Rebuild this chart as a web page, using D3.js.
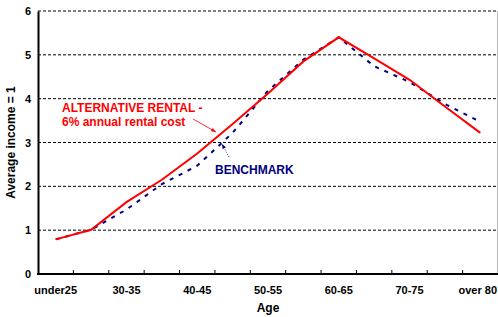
<!DOCTYPE html>
<html>
<head>
<meta charset="utf-8">
<script src="https://cdn.jsdelivr.net/npm/d3@7"></script>
<style>
  body { margin: 0; background: #fff; }
  text { font-family: "Liberation Sans", Arial, sans-serif; font-weight: bold; }
</style>
</head>
<body>
<div id="chart"></div>
<script>
var ages = ["under25", "25-30", "30-35", "35-40", "40-45", "45-50", "50-55", "55-60", "60-65", "65-70", "70-75", "75-80", "over 80"];
var shownLabels = ["under25", "30-35", "40-45", "50-55", "60-65", "70-75", "over 80"];
var rental = [0.79, 1.01, 1.64, 2.15, 2.75, 3.42, 4.12, 4.85, 5.40, 4.92, 4.43, 3.82, 3.22];
var benchmark = [0.79, 1.01, 1.47, 2.05, 2.47, 3.22, 4.18, 4.89, 5.40, 4.74, 4.38, 3.88, 3.47];
var yTicks = [0, 1, 2, 3, 4, 5, 6];

var W = 498, H = 317;
var margin = {top: 11, right: 0, bottom: 43, left: 38};
var width = W - margin.left - margin.right;
var height = H - margin.top - margin.bottom;

var svg = d3.select("#chart").append("svg")
    .attr("width", W)
    .attr("height", H);

var defs = svg.append("defs");
defs.append("marker").attr("id", "arrRed")
    .attr("viewBox", "0 0 10 10").attr("refX", 10).attr("refY", 5)
    .attr("markerWidth", 6).attr("markerHeight", 6).attr("orient", "auto")
    .append("path").attr("d", "M0,1L10,5L0,9Z").attr("fill", "#ff0000");
defs.append("marker").attr("id", "arrBlue")
    .attr("viewBox", "0 0 10 10").attr("refX", 10).attr("refY", 5)
    .attr("markerWidth", 6).attr("markerHeight", 6).attr("orient", "auto")
    .append("path").attr("d", "M0,1L10,5L0,9Z").attr("fill", "#000080");

var g = svg.append("g")
    .attr("transform", "translate(" + margin.left + "," + margin.top + ")");

var x = d3.scaleBand().domain(ages).range([0, width]).padding(0);
var y = d3.scaleLinear().domain([0, 6]).range([height, 0]);

// gridlines
g.append("g")
    .selectAll("line")
    .data(yTicks.filter(function(d) { return d > 0; }))
    .enter().append("line")
    .attr("x1", 0).attr("x2", width)
    .attr("y1", function(d) { return y(d); })
    .attr("y2", function(d) { return y(d); })
    .attr("stroke", "#000")
    .attr("stroke-width", 1)
    .attr("stroke-dasharray", "3,2");

// right border
g.append("line")
    .attr("x1", width - 0.5).attr("x2", width - 0.5)
    .attr("y1", 0).attr("y2", height)
    .attr("stroke", "#bbb");

// y axis
var yAxis = d3.axisLeft(y).tickValues(yTicks).tickFormat(d3.format("d")).tickSize(0).tickPadding(7);
var yg = g.append("g").call(yAxis);
yg.select(".domain").attr("stroke", "#000").attr("stroke-width", 2);
yg.selectAll(".tick text").style("font-size", "11px").attr("fill", "#000");

// x axis
var xAxis = d3.axisBottom(x).tickSize(0).tickPadding(12)
    .tickFormat(function(d) { return shownLabels.indexOf(d) >= 0 ? d : ""; });
var xg = g.append("g").attr("transform", "translate(0," + height + ")").call(xAxis);
xg.select(".domain").remove();
xg.selectAll(".tick text").style("font-size", "11px").attr("fill", "#000");
xg.selectAll(".tick text").filter(function(d) { return d === "over 80"; })
    .attr("text-anchor", "end").attr("x", x.bandwidth() / 2 - 1);

g.append("line")
    .attr("x1", -1).attr("x2", width)
    .attr("y1", height).attr("y2", height)
    .attr("stroke", "#000").attr("stroke-width", 2);

// tick marks between categories
g.append("g")
    .selectAll("line")
    .data(ages.slice(1))
    .enter().append("line")
    .attr("x1", function(d) { return x(d); })
    .attr("x2", function(d) { return x(d); })
    .attr("y1", height).attr("y2", height - 4)
    .attr("stroke", "#000");

var line = d3.line()
    .x(function(d, i) { return x(ages[i]) + x.bandwidth() / 2; })
    .y(function(d) { return y(d); });

g.append("path")
    .datum(benchmark)
    .attr("d", line)
    .attr("fill", "none")
    .attr("stroke", "#000080")
    .attr("stroke-width", 2)
    .attr("stroke-dasharray", "4,6");

g.append("path")
    .datum(rental)
    .attr("d", line)
    .attr("fill", "none")
    .attr("stroke", "#ff0000")
    .attr("stroke-width", 2);

// annotations
svg.append("text").attr("x", 62).attr("y", 112)
    .attr("fill", "#ff0000").style("font-size", "12px")
    .text("ALTERNATIVE RENTAL -");
svg.append("text").attr("x", 62).attr("y", 126)
    .attr("fill", "#ff0000").style("font-size", "12px")
    .text("6% annual rental cost");
svg.append("line")
    .attr("x1", 193).attr("y1", 119).attr("x2", 216).attr("y2", 132)
    .attr("stroke", "#ff0000").attr("stroke-width", 0.8)
    .attr("marker-end", "url(#arrRed)");

svg.append("text").attr("x", 215).attr("y", 174)
    .attr("fill", "#000080").style("font-size", "12px")
    .text("BENCHMARK");
svg.append("line")
    .attr("x1", 229).attr("y1", 157).attr("x2", 222).attr("y2", 144)
    .attr("stroke", "#000080").attr("stroke-width", 0.8)
    .attr("stroke-dasharray", "1,1.5")
    .attr("marker-end", "url(#arrBlue)");

// axis titles
svg.append("text")
    .attr("transform", "translate(15," + (margin.top + height / 2) + ") rotate(-90)")
    .attr("text-anchor", "middle")
    .style("font-size", "12px")
    .text("Average income = 1");
svg.append("text")
    .attr("x", margin.left + width / 2)
    .attr("y", 312)
    .attr("text-anchor", "middle")
    .style("font-size", "12px")
    .text("Age");
</script>
</body>
</html>
